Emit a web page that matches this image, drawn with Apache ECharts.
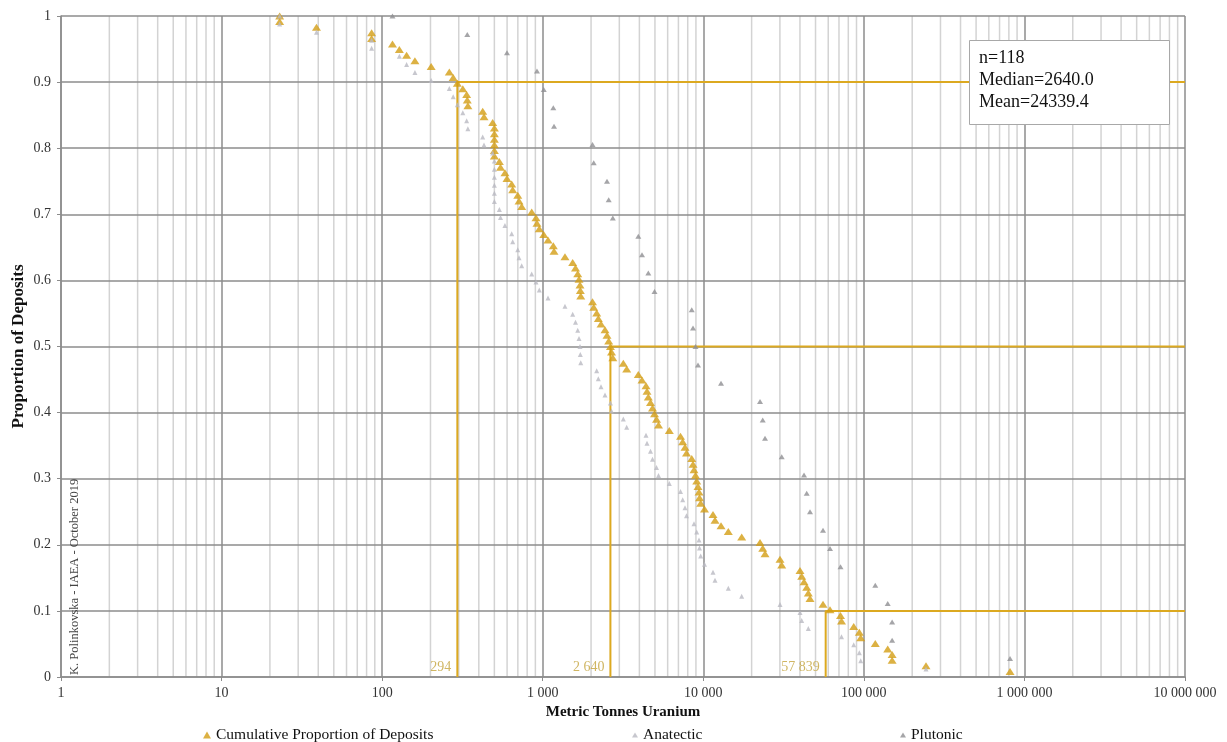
<!DOCTYPE html>
<html>
<head>
<meta charset="utf-8">
<script src="https://cdn.jsdelivr.net/npm/echarts@6/dist/echarts.min.js"></script>
<style>
  html, body { margin: 0; padding: 0; background: #ffffff; }
  #chart { width: 1227px; height: 742px; }
</style>
</head>
<body>
<div id="chart"></div>
<script>
// Uranium deposit tonnages (metric tonnes U) with their cumulative proportions.
const cumTonnes = [
  23, 23, 39, 86, 86, 116, 128, 142, 160, 202,
  262, 277, 294, 318, 336, 339, 342, 423, 431, 488,
  500, 500, 500, 500, 500, 500, 537, 546, 582, 599,
  641, 650, 699, 712, 740, 854, 908, 921, 952, 1015,
  1079, 1164, 1176, 1376, 1537, 1600, 1652, 1683, 1707, 1715,
  1725, 2042, 2078, 2169, 2220, 2307, 2443, 2514, 2576, 2640,
  2682, 2733, 3177, 3335, 3938, 4153, 4399, 4462, 4546, 4692,
  4829, 4969, 5114, 5262, 6143, 7215, 7442, 7694, 7861, 8474,
  8630, 8754, 8945, 9100, 9270, 9405, 9472, 9636, 10175, 11495,
  11830, 12897, 14317, 17350, 22560, 23450, 24240, 30050, 30790, 40030,
  41020, 42400, 44070, 45100, 46200, 55670, 61540, 71540, 72570, 86470,
  93700, 95600, 117800, 140800, 150000, 150000, 243800, 813600
];
const cumProportion = [
  1.0000, 0.9915, 0.9831, 0.9746, 0.9661, 0.9576, 0.9492, 0.9407, 0.9322, 0.9237,
  0.9153, 0.9068, 0.8983, 0.8898, 0.8814, 0.8729, 0.8644, 0.8559, 0.8475, 0.8390,
  0.8305, 0.8220, 0.8136, 0.8051, 0.7966, 0.7881, 0.7797, 0.7712, 0.7627, 0.7542,
  0.7458, 0.7373, 0.7288, 0.7203, 0.7119, 0.7034, 0.6949, 0.6864, 0.6780, 0.6695,
  0.6610, 0.6525, 0.6441, 0.6356, 0.6271, 0.6186, 0.6102, 0.6017, 0.5932, 0.5847,
  0.5763, 0.5678, 0.5593, 0.5508, 0.5424, 0.5339, 0.5254, 0.5169, 0.5085, 0.5000,
  0.4915, 0.4831, 0.4746, 0.4661, 0.4576, 0.4492, 0.4407, 0.4322, 0.4237, 0.4153,
  0.4068, 0.3983, 0.3898, 0.3814, 0.3729, 0.3644, 0.3559, 0.3475, 0.3390, 0.3305,
  0.3220, 0.3136, 0.3051, 0.2966, 0.2881, 0.2797, 0.2712, 0.2627, 0.2542, 0.2458,
  0.2373, 0.2288, 0.2203, 0.2119, 0.2034, 0.1949, 0.1864, 0.1780, 0.1695, 0.1610,
  0.1525, 0.1441, 0.1356, 0.1271, 0.1186, 0.1102, 0.1017, 0.0932, 0.0847, 0.0763,
  0.0678, 0.0593, 0.0508, 0.0424, 0.0339, 0.0254, 0.0169, 0.0085
];

const anatecticTonnes = [
  23, 23, 39, 86, 86, 128, 142, 160, 202, 262,
  277, 294, 318, 336, 342, 423, 431, 488, 500, 500,
  500, 500, 500, 500, 537, 546, 582, 641, 650, 699,
  712, 740, 854, 908, 952, 1079, 1376, 1537, 1600, 1652,
  1683, 1707, 1715, 1725, 2169, 2220, 2307, 2443, 2640, 2682,
  3177, 3335, 4399, 4462, 4692, 4829, 5114, 5262, 6143, 7215,
  7442, 7694, 7861, 8754, 9100, 9405, 9472, 9636, 10175, 11495,
  11830, 14317, 17350, 30050, 40030, 41020, 45100, 72570, 86470, 93700,
  95600, 243800
];
const anatecticProportion = [
  1.0000, 0.9878, 0.9756, 0.9634, 0.9512, 0.9390, 0.9268, 0.9146, 0.9024, 0.8902,
  0.8780, 0.8659, 0.8537, 0.8415, 0.8293, 0.8171, 0.8049, 0.7927, 0.7805, 0.7683,
  0.7561, 0.7439, 0.7317, 0.7195, 0.7073, 0.6951, 0.6829, 0.6707, 0.6585, 0.6463,
  0.6341, 0.6220, 0.6098, 0.5976, 0.5854, 0.5732, 0.5610, 0.5488, 0.5366, 0.5244,
  0.5122, 0.5000, 0.4878, 0.4756, 0.4634, 0.4512, 0.4390, 0.4268, 0.4146, 0.4024,
  0.3902, 0.3780, 0.3659, 0.3537, 0.3415, 0.3293, 0.3171, 0.3049, 0.2927, 0.2805,
  0.2683, 0.2561, 0.2439, 0.2317, 0.2195, 0.2073, 0.1951, 0.1829, 0.1707, 0.1585,
  0.1463, 0.1341, 0.1220, 0.1098, 0.0976, 0.0854, 0.0732, 0.0610, 0.0488, 0.0366,
  0.0244, 0.0122
];

const plutonicTonnes = [
  116, 339, 599, 921, 1015, 1164, 1176, 2042, 2078, 2514,
  2576, 2733, 3938, 4153, 4546, 4969, 8474, 8630, 8945, 9270,
  12897, 22560, 23450, 24240, 30790, 42400, 44070, 46200, 55670, 61540,
  71540, 117800, 140800, 150000, 150000, 813600
];
const plutonicProportion = [
  1.0000, 0.9722, 0.9444, 0.9167, 0.8889, 0.8611, 0.8333, 0.8056, 0.7778, 0.7500,
  0.7222, 0.6944, 0.6667, 0.6389, 0.6111, 0.5833, 0.5556, 0.5278, 0.5000, 0.4722,
  0.4444, 0.4167, 0.3889, 0.3611, 0.3333, 0.3056, 0.2778, 0.2500, 0.2222, 0.1944,
  0.1667, 0.1389, 0.1111, 0.0833, 0.0556, 0.0278
];

// 10th, 50th and 90th percentile tonnages and the proportion each sits at.
const percentileTonnes = [294, 2640, 57839];
const percentileLevels = [0.9, 0.5, 0.1];

const xTickLabels = ['1', '10', '100', '1 000', '10 000', '100 000', '1 000 000', '10 000 000'];
const statLines = ['n=118', 'Median=2640.0', 'Mean=24339.4'];
const creditText = 'K. Polinkovska - IAEA - October 2019';

const SERIF = '"Liberation Serif", "DejaVu Serif", serif';
const GOLD = '#D39E14';
const GOLD_LINE = '#DCA920';
const X_MAX = 10000000;

function spaced(n) {
  return String(n).replace(/\B(?=(\d{3})+(?!\d))/g, ' ');
}

// light log-grid lines at 2..9 of every decade
const minorGrid = [];
for (let d = 1; d < X_MAX; d *= 10) {
  for (let m = 2; m <= 9; m++) minorGrid.push([m * d, 0]);
}

const pair = (xs, ys) => xs.map((x, i) => [x, ys[i]]);

const percentileSeries = percentileTonnes.map((t, k) => ({
  type: 'line',
  name: 'p' + k,
  data: [[t, 0], [t, percentileLevels[k]], [X_MAX, percentileLevels[k]]],
  symbol: 'none',
  silent: true,
  z: 3,
  lineStyle: { color: GOLD_LINE, width: 2 },
  animation: false
}));

const chart = echarts.init(document.getElementById('chart'), null, { renderer: 'canvas' });

chart.setOption({
  animation: false,
  backgroundColor: '#ffffff',
  textStyle: { fontFamily: SERIF },
  grid: { left: 61, right: 42, top: 16, bottom: 65, containLabel: false, outerBoundsMode: 'none' },
  xAxis: {
    type: 'log',
    logBase: 10,
    min: 1,
    max: X_MAX,
    z: 1,
    name: 'Metric Tonnes Uranium',
    nameLocation: 'middle',
    nameGap: 28,
    nameMoveOverlap: false,
    nameTextStyle: { fontFamily: SERIF, fontWeight: 'bold', fontSize: 15, color: '#111' },
    axisLine: { lineStyle: { color: '#8c8c8c', width: 1.5 } },
    axisTick: { show: true, length: 4, lineStyle: { color: '#8c8c8c' } },
    axisLabel: {
      fontFamily: SERIF, fontSize: 14, color: '#333', margin: 9,
      formatter: v => xTickLabels[Math.round(Math.log10(v))]
    },
    splitLine: { show: true, lineStyle: { color: '#8c8c8c', width: 1.5 } }
  },
  yAxis: {
    type: 'value',
    min: 0,
    max: 1,
    interval: 0.1,
    z: 1,
    name: 'Proportion of Deposits',
    nameLocation: 'middle',
    nameGap: 34,
    nameMoveOverlap: false,
    nameTextStyle: { fontFamily: SERIF, fontWeight: 'bold', fontSize: 17, color: '#111' },
    axisLine: { show: true, lineStyle: { color: '#8c8c8c', width: 1.5 } },
    axisTick: { show: true, length: 4, lineStyle: { color: '#8c8c8c' } },
    axisLabel: { fontFamily: SERIF, fontSize: 14, color: '#333', margin: 10 },
    splitLine: { show: true, lineStyle: { color: '#8c8c8c', width: 1.5 } }
  },
  legend: [
    {
      data: ['Cumulative Proportion of Deposits'], left: 198, top: 722,
      itemWidth: 8, itemHeight: 7, itemGap: 0,
      textStyle: { fontFamily: SERIF, fontSize: 15.5, color: '#111' }
    },
    {
      data: ['Anatectic'], left: 627, top: 722,
      itemWidth: 6, itemHeight: 5,
      textStyle: { fontFamily: SERIF, fontSize: 15.5, color: '#111' }
    },
    {
      data: ['Plutonic'], left: 895, top: 722,
      itemWidth: 6, itemHeight: 5,
      textStyle: { fontFamily: SERIF, fontSize: 15.5, color: '#111' }
    }
  ],
  graphic: [
    {
      type: 'rect', left: 969, top: 40, z: 100,
      shape: { x: 0, y: 0, width: 200, height: 84 },
      style: { fill: '#ffffff', stroke: '#a8a8a8', lineWidth: 1 }
    },
    {
      type: 'text', left: 979, top: 47, z: 101,
      style: { text: statLines.join('\n'), font: '18px ' + SERIF, lineHeight: 22, fill: '#111' }
    },
    {
      type: 'text', x: 68, y: 675, rotation: Math.PI / 2, z: 50,
      style: { text: creditText, font: '12.5px ' + SERIF, fill: '#444', verticalAlign: 'top' }
    }
  ],
  series: [
    {
      type: 'custom',
      name: 'minor grid',
      silent: true,
      z: 0,
      data: minorGrid,
      renderItem: (params, api) => {
        const a = api.coord([api.value(0), 1]);
        const b = api.coord([api.value(0), 0]);
        return {
          type: 'line',
          shape: { x1: a[0], y1: a[1], x2: b[0], y2: b[1] },
          style: { stroke: '#d3d3d3', lineWidth: 1.5 }
        };
      }
    },
    ...percentileSeries,
    {
      type: 'scatter',
      name: 'percentile labels',
      silent: true,
      z: 5,
      symbolSize: 0,
      data: percentileTonnes.map(t => [t, 0]),
      label: {
        show: true, position: 'left', distance: 6, offset: [0, -10],
        fontFamily: SERIF, fontSize: 14, color: '#C4A43C',
        formatter: p => spaced(p.value[0])
      }
    },
    {
      type: 'scatter',
      name: 'Cumulative Proportion of Deposits',
      symbol: 'triangle',
      symbolSize: [9, 7],
      z: 4,
      itemStyle: { color: GOLD },
      data: pair(cumTonnes, cumProportion)
    },
    {
      type: 'scatter',
      name: 'Anatectic',
      symbol: 'triangle',
      symbolSize: [5, 5],
      z: 5,
      itemStyle: { color: '#b9b9c2' },
      data: pair(anatecticTonnes, anatecticProportion)
    },
    {
      type: 'scatter',
      name: 'Plutonic',
      symbol: 'triangle',
      symbolSize: [6, 5],
      z: 6,
      itemStyle: { color: '#8e8e92' },
      data: pair(plutonicTonnes, plutonicProportion)
    }
  ]
});
</script>
</body>
</html>
